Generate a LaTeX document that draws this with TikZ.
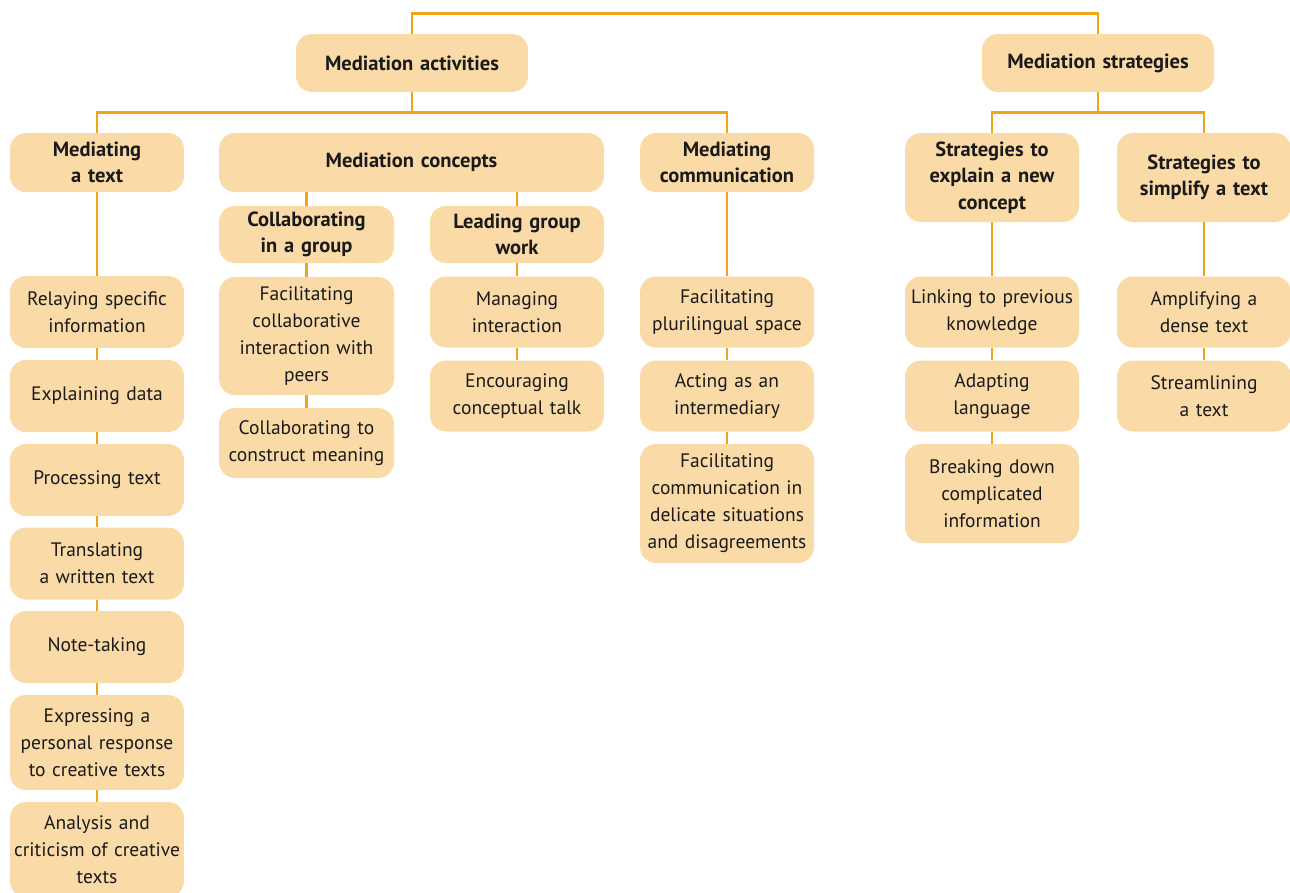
\documentclass[tikz,border=0pt]{standalone}
\usepackage{fontspec}
\setmainfont{PT Sans}
\definecolor{boxfill}{HTML}{FADBA8}
\definecolor{linecol}{HTML}{EFA514}
\definecolor{txt}{HTML}{1A1A1A}
\begin{document}
\begin{tikzpicture}[x=1pt,y=-1pt,
  box/.style={fill=boxfill, rounded corners=16pt, draw=none, inner sep=0pt,
    minimum width=174pt, text width=170pt, align=center, text=txt,
    font=\fontsize{19.5}{27}\selectfont},
  head/.style={box, font=\fontsize{20.5}{26.5}\selectfont\bfseries},
  conn/.style={draw=linecol, line width=2.8pt}]
\useasboundingbox (0,0) rectangle (1290,892);
% top level
\node[head, minimum width=232pt, text width=226pt, minimum height=58pt] (act) at (412,63) {Mediation activities};
\node[head, minimum width=232pt, text width=226pt, minimum height=58pt] (str) at (1098,63) {Mediation strategies};
% level 2
\node[head, minimum height=59pt] (mtext) at (97,162.5) {Mediating\\a text};
\node[head, minimum width=385pt, text width=379pt, minimum height=59pt] (mconc) at (411.5,162.5) {Mediation concepts};
\node[head, minimum height=59pt] (mcomm) at (727,162.5) {Mediating\\communication};
\node[head, minimum height=89pt] (sexp) at (992,177.5) {Strategies to\\explain a new\\concept};
\node[head, minimum height=89pt] (ssimp) at (1204,177.5) {Strategies to\\simplify a text};
% level 3
\node[head, minimum width=175pt, minimum height=57pt] (cgroup) at (306.5,234.5) {Collaborating\\in a group};
\node[head, minimum height=57pt] (lgroup) at (517,234.5) {Leading group\\work};
% column 1
\node[box, minimum height=72pt] (t1) at (97,312) {Relaying specific\\information};
\node[box, minimum height=72pt] (t2) at (97,396) {Explaining data};
\node[box, minimum height=72pt] (t3) at (97,480) {Processing text};
\node[box, minimum height=72pt] (t4) at (97,563.5) {Translating\\a written text};
\node[box, minimum height=72pt] (t5) at (97,647) {Note-taking};
\node[box, minimum height=95pt] (t6) at (97,742.5) {Expressing a\\personal response\\to creative texts};
\node[box, minimum height=95pt] (t7) at (97,849.5) {Analysis and\\criticism of creative\\texts};
% column 2
\node[box, minimum width=175pt, minimum height=118pt] (c1) at (306.5,336) {Facilitating\\collaborative\\interaction with\\peers};
\node[box, minimum width=175pt, minimum height=70pt] (c2) at (306.5,443) {Collaborating to\\construct meaning};
% column 3
\node[box, minimum height=71pt] (g1) at (517,312) {Managing\\interaction};
\node[box, minimum height=71pt] (g2) at (517,396) {Encouraging\\conceptual talk};
% column 4
\node[box, minimum height=71pt] (m1) at (727,312) {Facilitating\\plurilingual space};
\node[box, minimum height=71pt] (m2) at (727,396) {Acting as an\\intermediary};
\node[box, minimum height=119pt] (m3) at (727,503.5) {Facilitating\\communication in\\delicate situations\\and disagreements};
% column 5
\node[box, minimum height=71pt] (e1) at (992,312) {Linking to previous\\knowledge};
\node[box, minimum height=71pt] (e2) at (992,396) {Adapting\\language};
\node[box, minimum height=99pt] (e3) at (992,493.5) {Breaking down\\complicated\\information};
% column 6
\node[box, minimum height=71pt] (s1) at (1204,312) {Amplifying a\\dense text};
\node[box, minimum height=71pt] (s2) at (1204,396) {Streamlining\\a text};
% connectors
\draw[conn] (act.north) -- ++(0,-20) -| (str.north);
\draw[conn] (act.south) -- ++(0,20) coordinate (h1);
\draw[conn] (mtext.north) |- (h1) -| (mcomm.north);
\draw[conn] (str.south) -- ++(0,20) coordinate (h2);
\draw[conn] (sexp.north) |- (h2) -| (ssimp.north);
\draw[conn] (cgroup.north) -- (cgroup.north |- mconc.south);
\draw[conn] (lgroup.north) -- (lgroup.north |- mconc.south);
\draw[conn] (mtext.south) -- (t1.north);
\draw[conn] (t1.south) -- (t2.north);
\draw[conn] (t2.south) -- (t3.north);
\draw[conn] (t3.south) -- (t4.north);
\draw[conn] (t4.south) -- (t5.north);
\draw[conn] (t5.south) -- (t6.north);
\draw[conn] (t6.south) -- (t7.north);
\draw[conn] (cgroup.south) -- (c1.north);
\draw[conn] (c1.south) -- (c2.north);
\draw[conn] (lgroup.south) -- (g1.north);
\draw[conn] (g1.south) -- (g2.north);
\draw[conn] (mcomm.south) -- (m1.north);
\draw[conn] (m1.south) -- (m2.north);
\draw[conn] (m2.south) -- (m3.north);
\draw[conn] (sexp.south) -- (e1.north);
\draw[conn] (e1.south) -- (e2.north);
\draw[conn] (e2.south) -- (e3.north);
\draw[conn] (ssimp.south) -- (s1.north);
\draw[conn] (s1.south) -- (s2.north);
\end{tikzpicture}
\end{document}
